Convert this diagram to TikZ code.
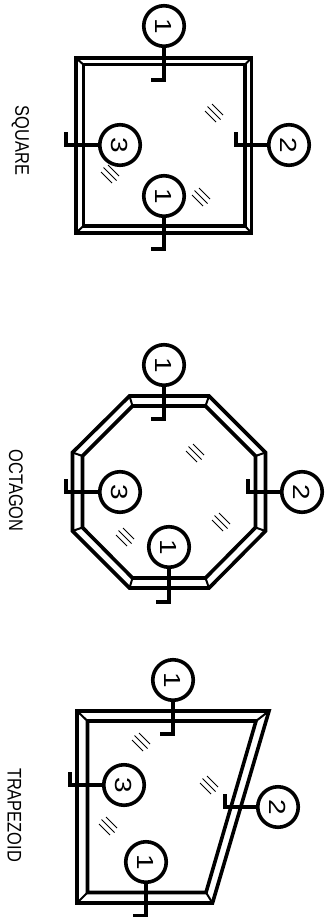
\documentclass[tikz,border=0pt]{standalone}
\usepackage{fontspec}
\usepackage{graphicx}
\setmainfont{Liberation Sans}
\tikzset{
  frame/.style={line width=3.6pt,line join=miter,draw=black},
  lead/.style={line width=3.4pt,line join=miter,draw=black},
  tag/.style={circle,draw=black,line width=3.6pt,minimum size=40.5pt,inner sep=0pt,fill=white,font=\fontsize{23.3}{23.3}\selectfont},
  caption/.style={inner sep=0pt,font=\fontsize{16.4}{16.4}\selectfont}
}
\newcommand{\hatchmark}[2]{%
  \draw[line width=1pt,black] (#1+3.5-5.5,#2-3.5-5.5) -- (#1+3.5+5.5,#2-3.5+5.5);
  \draw[line width=1pt,black] (#1-6.5,#2-6.5) -- (#1+6.5,#2+6.5);
  \draw[line width=1pt,black] (#1-3.5-5.5,#2+3.5-5.5) -- (#1-3.5+5.5,#2+3.5+5.5);
}
\newcommand{\rt}[1]{\rotatebox{-90}{\scalebox{1.2}[1]{#1}}}
\newcommand{\rc}[1]{\rotatebox{-90}{\scalebox{1}[1.2]{#1}}}
\begin{document}
\begin{tikzpicture}[x=1pt,y=-1pt]
\useasboundingbox (0,0) rectangle (325,917);
\fill[white] (0,0) rectangle (325,917);

% SQUARE
\draw[frame] (76,58) rectangle (251.5,233);
\draw[frame] (83.3,64.5) rectangle (245,226);
\foreach \ax/\ay/\bx/\by in {76/58/83.3/64.5,251.5/58/245/64.5,251.5/233/245/226,76/233/83.3/226}
  \draw[line width=2pt] (\ax,\ay) -- (\bx,\by);
\hatchmark{214}{113}
\hatchmark{110}{174}
\hatchmark{201}{197}
\node[tag] (sa) at (164,26) {\rt{1}};
\node[tag] (sb) at (164,196) {\rt{1}};
\node[tag] (sc) at (289,145) {\rt{2}};
\node[tag] (sd) at (120,145) {\rt{3}};
\coordinate (sa1) at (164,80); \coordinate (sa2) at (151,80);
\coordinate (sb1) at (164,249); \coordinate (sb2) at (151,249);
\coordinate (sc1) at (236,145); \coordinate (sc2) at (236,132);
\coordinate (sd1) at (66,145); \coordinate (sd2) at (66,132);
\draw[lead] (sa.south) -- (sa1) -- (sa2);
\draw[lead] (sb.south) -- (sb1) -- (sb2);
\draw[lead] (sc.west) -- (sc1) -- (sc2);
\draw[lead] (sd.west) -- (sd1) -- (sd2);
\node[caption] (sl) at (20.5,140.5) {\rc{SQUARE}};

% OCTAGON
\draw[frame] (129.5,396) -- (209,396) -- (265.5,452.5) -- (265.5,531) -- (209,588) -- (129.5,588) -- (72.5,531) -- (72.5,452.5) -- cycle;
\draw[frame] (132.5,406) -- (205.5,406) -- (255.5,456) -- (255.5,527.5) -- (205.5,578) -- (132.5,578) -- (82.5,527.5) -- (82.5,456) -- cycle;
\foreach \ax/\ay/\bx/\by in {129.5/396/132.5/406,209/396/205.5/406,265.5/452.5/255.5/456,265.5/531/255.5/527.5,209/588/205.5/578,129.5/588/132.5/578,72.5/531/82.5/527.5,72.5/452.5/82.5/456}
  \draw[line width=2pt] (\ax,\ay) -- (\bx,\by);
\hatchmark{195}{453}
\hatchmark{221}{522}
\hatchmark{125}{537}
\node[tag] (oa) at (164,365) {\rt{1}};
\node[tag] (ob) at (169,547) {\rt{1}};
\node[tag] (oc) at (302,492) {\rt{2}};
\node[tag] (od) at (120,492) {\rt{3}};
\coordinate (oa1) at (164,419); \coordinate (oa2) at (151,419);
\coordinate (ob1) at (169,602); \coordinate (ob2) at (156,602);
\coordinate (oc1) at (248,492); \coordinate (oc2) at (248,479);
\coordinate (od1) at (66,492); \coordinate (od2) at (66,479);
\draw[lead] (oa.south) -- (oa1) -- (oa2);
\draw[lead] (ob.south) -- (ob1) -- (ob2);
\draw[lead] (oc.west) -- (oc1) -- (oc2);
\draw[lead] (od.west) -- (od1) -- (od2);
\node[caption] (ol) at (16,490.5) {\rc{OCTAGON}};

% TRAPEZOID
\draw[frame] (77,711) -- (269,711) -- (212.5,903) -- (77,903) -- cycle;
\draw[frame] (87.5,721) -- (256,721) -- (206,892.5) -- (87.5,892.5) -- cycle;
\foreach \ax/\ay/\bx/\by in {77/711/87.5/721,269/711/256/721,212.5/903/206/892.5,77/903/87.5/892.5}
  \draw[line width=2pt] (\ax,\ay) -- (\bx,\by);
\hatchmark{141}{742}
\hatchmark{209}{785}
\hatchmark{108}{826}
\node[tag] (ta) at (173,680) {\rt{1}};
\node[tag] (tb) at (146,862) {\rt{1}};
\node[tag] (tc) at (278,807) {\rt{2}};
\node[tag] (td) at (124,785) {\rt{3}};
\coordinate (ta1) at (173,734); \coordinate (ta2) at (160,734);
\coordinate (tb1) at (146,916); \coordinate (tb2) at (133,916);
\coordinate (tc1) at (225,807); \coordinate (tc2) at (225,794);
\coordinate (td1) at (70,785); \coordinate (td2) at (70,772);
\draw[lead] (ta.south) -- (ta1) -- (ta2);
\draw[lead] (tb.south) -- (tb1) -- (tb2);
\draw[lead] (tc.west) -- (tc1) -- (tc2);
\draw[lead] (td.west) -- (td1) -- (td2);
\node[caption] (tl) at (14.5,815) {\rc{TRAPEZOID}};
\end{tikzpicture}
\end{document}
